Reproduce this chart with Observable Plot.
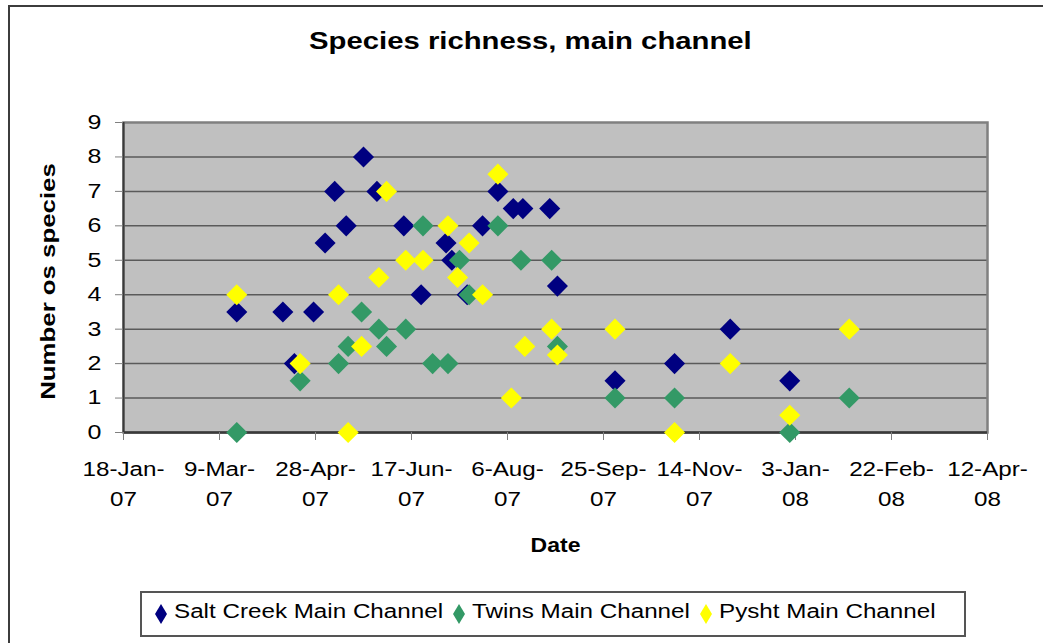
<!DOCTYPE html>
<html>
<head>
<meta charset="utf-8">
<script src="https://cdn.jsdelivr.net/npm/d3@7"></script>
<script src="https://cdn.jsdelivr.net/npm/@observablehq/plot@0.6"></script>
<style>
  html, body { margin: 0; padding: 0; background: #fff; }
  #wrap { position: relative; width: 1043px; height: 643px; overflow: hidden; background: #fff; font-family: "Liberation Sans", Arial, sans-serif; }
  #frame { position: absolute; left: 8px; top: 5px; width: 1100px; height: 700px; border: 2px solid #3c3c3c; }
  #title { position: absolute; left: 0; top: 27px; width: 1060px; text-align: center; color: #000; }
  #title span { display: inline-block; font-weight: bold; font-size: 24px; transform: scaleX(1.22); transform-origin: center; }
  #chart { position: absolute; left: 0; top: 80px; }
  #legend { position: absolute; left: 140px; top: 591px; width: 822px; height: 42px; border: 2px solid #555; background: #fff; font-size: 20px; color: #000; white-space: nowrap; }
  #legend svg { position: absolute; top: 10px; }
  #legend .lab { position: absolute; top: 7px; display: inline-block; transform: scaleX(1.21); transform-origin: left center; }
</style>
</head>
<body>
<div id="wrap">
  <div id="frame"></div>
  <div id="title"><span>Species richness, main channel</span></div>
  <div id="chart"></div>
  <div id="legend"></div>
</div>
<script>
// ---- data ----
const seriesNames = ["Salt Creek Main Channel", "Twins Main Channel", "Pysht Main Channel"];
const seriesColors = ["#000080", "#339966", "#ffff00"];

const saltDates = ["2007-03-18","2007-04-11","2007-04-17","2007-04-27","2007-05-03","2007-05-08","2007-05-14","2007-05-23","2007-05-30","2007-06-13","2007-06-22","2007-07-05","2007-07-08","2007-07-16","2007-07-24","2007-08-01","2007-08-09","2007-08-14","2007-08-28","2007-09-01","2007-10-01","2007-11-01","2007-11-30","2007-12-31"];
const saltValues = [3.5, 3.5, 2, 3.5, 5.5, 7, 6, 8, 7, 6, 4, 5.5, 5, 4, 6, 7, 6.5, 6.5, 6.5, 4.25, 1.5, 2, 3, 1.5];

const twinsDates = ["2007-03-18","2007-04-20","2007-05-10","2007-05-15","2007-05-22","2007-05-31","2007-06-04","2007-06-14","2007-06-23","2007-06-28","2007-07-06","2007-07-12","2007-07-17","2007-08-01","2007-08-13","2007-08-29","2007-09-01","2007-10-01","2007-11-01","2007-12-31","2008-01-31"];
const twinsValues = [0, 1.5, 2, 2.5, 3.5, 3, 2.5, 3, 6, 2, 2, 5, 4, 6, 5, 5, 2.5, 1, 1, 0, 1];

const pyshtDates = ["2007-03-18","2007-04-20","2007-05-10","2007-05-15","2007-05-22","2007-05-31","2007-06-04","2007-06-14","2007-06-23","2007-07-06","2007-07-11","2007-07-17","2007-07-24","2007-08-01","2007-08-08","2007-08-15","2007-08-29","2007-09-01","2007-10-01","2007-11-01","2007-11-30","2007-12-31","2008-01-31"];
const pyshtValues = [4, 2, 4, 0, 2.5, 4.5, 7, 5, 5, 6, 4.5, 5.5, 4, 7.5, 1, 2.5, 3, 2.25, 3, 0, 2, 0.5, 3];

const xTickDates = ["2007-01-18","2007-03-09","2007-04-28","2007-06-17","2007-08-06","2007-09-25","2007-11-14","2008-01-03","2008-02-22","2008-04-12"];
const xTickLabels = ["18-Jan-07","9-Mar-07","28-Apr-07","17-Jun-07","6-Aug-07","25-Sep-07","14-Nov-07","3-Jan-08","22-Feb-08","12-Apr-08"];
const yTicks = [0, 1, 2, 3, 4, 5, 6, 7, 8, 9];
const yTitle = "Number os species";
const xTitle = "Date";

// ---- build ----
const parse = d3.utcParse("%Y-%m-%d");
const toRows = (dates, values, name) => dates.map((d, i) => ({date: parse(d), value: values[i], series: name}));
const salt = toRows(saltDates, saltValues, seriesNames[0]);
const twins = toRows(twinsDates, twinsValues, seriesNames[1]);
const pysht = toRows(pyshtDates, pyshtValues, seriesNames[2]);
const xTicks = xTickDates.map(parse);
const labelOf = new Map(xTicks.map((d, i) => [+d, xTickLabels[i].replace(/-(\d\d)$/, "-\n$1")]));

const chart = Plot.plot({
  width: 1043,
  height: 490,
  marginTop: 42,
  marginLeft: 123,
  marginRight: 56,
  marginBottom: 138,
  style: {fontFamily: "'Liberation Sans', Arial, sans-serif", background: "transparent", overflow: "visible"},
  x: {type: "utc", domain: [xTicks[0], xTicks[xTicks.length - 1]]},
  y: {domain: [0, 9]},
  color: {domain: seriesNames, range: seriesColors},
  marks: [
    Plot.frame({fill: "#c0c0c0", stroke: null}),
    Plot.ruleY(yTicks.slice(1, 9), {stroke: "#5a5a5a", strokeWidth: 1.5}),
    Plot.frame({stroke: "#808080", strokeWidth: 2.5}),
    Plot.ruleX([xTicks[0]], {stroke: "#3a3a3a", strokeWidth: 2}),
    Plot.ruleY([0], {stroke: "#3a3a3a", strokeWidth: 2.5}),
    Plot.axisX({ticks: xTicks, tickFormat: d => labelOf.get(+d), tickSize: 8, tickPadding: 13, fontSize: 20, lineHeight: 1.55, stroke: "#808080", fill: "#000", label: null}),
    Plot.axisY({ticks: yTicks, tickSize: 8, tickPadding: 14, fontSize: 20, stroke: "#808080", fill: "#000", label: null}),
    Plot.text([yTitle], {frameAnchor: "left", textAnchor: "middle", rotate: -90, dx: -75, dy: 4, fontSize: 20, fontWeight: "bold", fill: "#000"}),
    Plot.text([xTitle], {frameAnchor: "bottom", dy: 119, fontSize: 20, fontWeight: "bold", fill: "#000"}),
    Plot.dot(salt, {x: "date", y: "value", fill: "series", symbol: "diamond2", r: 9.5, stroke: null}),
    Plot.dot(twins, {x: "date", y: "value", fill: "series", symbol: "diamond2", r: 9.5, stroke: null}),
    Plot.dot(pysht, {x: "date", y: "value", fill: "series", symbol: "diamond2", r: 9.5, stroke: null})
  ]
});
document.getElementById("chart").appendChild(chart);

// widen text along its baseline (the reference renders text wider than Arial)
const xLabelSet = new Set(xTickLabels);
const yLabelSet = new Set(yTicks.map(String));
chart.querySelectorAll("text").forEach(el => {
  const s0 = el.textContent.trim();
  if (s0 === yTitle) {
    el.setAttribute("textLength", (el.getComputedTextLength() * 1.29).toFixed(1));
    el.setAttribute("lengthAdjust", "spacingAndGlyphs");
    return;
  }
  let s = null;
  if (xLabelSet.has(s0)) s = 1.21;
  else if (yLabelSet.has(s0)) s = 1.25;
  else if (s0 === xTitle) s = 1.15;
  if (s == null) return;
  const t = el.getAttribute("transform") || "";
  const xs = el.getAttribute("x");
  const ox = xs && /^[-\d.]+$/.test(xs) ? +xs : 0;
  el.setAttribute("transform", ox ? `${t} translate(${ox},0) scale(${s},1) translate(${-ox},0)` : `${t} scale(${s},1)`);
});

// legend
const legend = document.getElementById("legend");
let cursor = 12;
seriesNames.forEach((name, i) => {
  const sw = document.createElementNS("http://www.w3.org/2000/svg", "svg");
  sw.setAttribute("width", 14); sw.setAttribute("height", 22);
  sw.innerHTML = `<polygon points="7,1 13,11 7,21 1,11" fill="${seriesColors[i]}"/>`;
  sw.style.left = cursor + "px";
  legend.appendChild(sw);
  const lab = document.createElement("span");
  lab.className = "lab";
  lab.textContent = name;
  lab.style.left = (cursor + 20) + "px";
  legend.appendChild(lab);
  cursor += 20 + lab.getBoundingClientRect().width + 9;
});
</script>
</body>
</html>
